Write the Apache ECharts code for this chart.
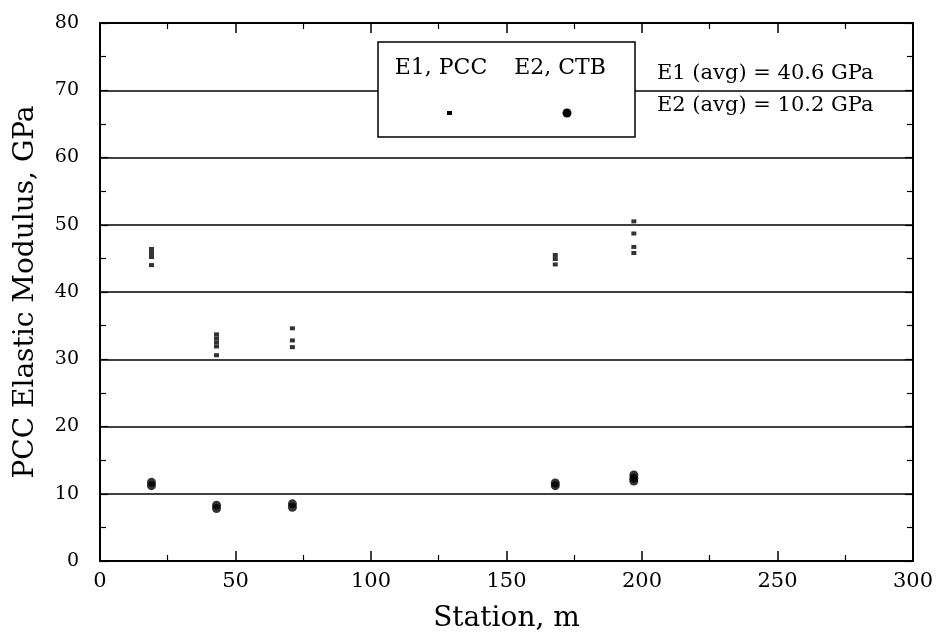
<!DOCTYPE html>
<html lang="en">
<head>
    <meta charset="UTF-8">
    <title>PCC Elastic Modulus vs Station</title>
    <script src="https://cdn.jsdelivr.net/npm/echarts@6/dist/echarts.min.js"></script>
    <style>
        body { margin: 0; background: #fff; }
        #chart { width: 936px; height: 640px; }
    </style>
</head>
<body>
<div id="chart"></div>
<script>
    // station positions (m) and moduli (GPa)
    var stations = [19, 43, 71, 168, 197];
    var e1Values = [
        [46.4, 45.8, 45.2, 44.0],
        [33.7, 33.1, 32.5, 31.9, 30.6],
        [34.6, 32.8, 31.8],
        [45.5, 44.9, 44.1],
        [50.5, 48.7, 46.7, 45.8]
    ];
    var e2Values = [
        [11.7, 11.2],
        [8.3, 7.8],
        [8.5, 8.0],
        [11.6, 11.2],
        [12.8, 12.3, 11.9]
    ];
    var legendNames = ['E1, PCC', 'E2, CTB'];
    var avgNotes = ['E1 (avg) = 40.6 GPa', 'E2 (avg) = 10.2 GPa'];

    function toPoints(values) {
        var pts = [];
        stations.forEach(function (s, i) {
            values[i].forEach(function (v) { pts.push([s, v]); });
        });
        return pts;
    }

    var serif = '"DejaVu Serif", "Liberation Serif", serif';
    var chart = echarts.init(document.getElementById('chart'));

    // onZero off so the mirrored top/right axes stay on the frame
    var frameLine = { show: true, onZero: false, lineStyle: { color: '#000', width: 2 } };
    var xTick = { show: true, inside: true, length: 10, lineStyle: { color: '#000', width: 1.5 } };
    var yTick = { show: true, inside: true, length: 8, lineStyle: { color: '#000', width: 1.2 } };
    var minor = { show: true, splitNumber: 2, length: 6, lineStyle: { color: '#000', width: 1.2 } };

    chart.setOption({
        backgroundColor: '#fff',
        animation: false,
        grid: { left: 100, right: 22, top: 23, bottom: 79 },
        xAxis: [
            {
                type: 'value', min: 0, max: 300, interval: 50, position: 'bottom',
                name: 'Station, m',
                nameLocation: 'middle',
                nameGap: 44,
                nameTextStyle: { fontFamily: serif, fontSize: 28, color: '#000' },
                axisLine: frameLine, axisTick: xTick, minorTick: minor,
                axisLabel: { fontFamily: serif, fontSize: 21, color: '#000', margin: 10 },
                splitLine: { show: false }
            },
            {
                type: 'value', min: 0, max: 300, interval: 50, position: 'top',
                axisLine: frameLine, axisTick: xTick, minorTick: minor,
                axisLabel: { show: false },
                splitLine: { show: false }
            }
        ],
        yAxis: [
            {
                type: 'value', min: 0, max: 80, interval: 10, position: 'left',
                name: 'PCC Elastic Modulus, GPa',
                nameLocation: 'middle',
                nameGap: 60,
                nameTextStyle: { fontFamily: serif, fontSize: 28, color: '#000' },
                axisLine: frameLine, axisTick: yTick, minorTick: minor,
                axisLabel: { fontFamily: serif, fontSize: 19, color: '#000', margin: 21 },
                splitLine: { show: true, lineStyle: { color: '#000', width: 1.5 } }
            },
            {
                type: 'value', min: 0, max: 80, interval: 10, position: 'right',
                axisLine: frameLine, axisTick: yTick, minorTick: minor,
                axisLabel: { show: false },
                splitLine: { show: false }
            }
        ],
        series: [
            {
                name: legendNames[0],
                type: 'scatter',
                symbol: 'rect',
                symbolSize: [5, 4],
                itemStyle: { color: '#000' },
                data: toPoints(e1Values)
            },
            {
                name: legendNames[1],
                type: 'scatter',
                symbol: 'circle',
                symbolSize: 9,
                itemStyle: { color: '#000' },
                data: toPoints(e2Values)
            }
        ],
        graphic: [
            {
                type: 'rect', z: 100,
                shape: { x: 378, y: 42, width: 257, height: 95 },
                style: { fill: '#fff', stroke: '#000', lineWidth: 1.5 }
            },
            {
                type: 'text', z: 101, x: 441, y: 68,
                style: { text: legendNames[0], font: '22px ' + serif, fill: '#000', align: 'center', verticalAlign: 'middle' }
            },
            {
                type: 'text', z: 101, x: 560, y: 68,
                style: { text: legendNames[1], font: '22px ' + serif, fill: '#000', align: 'center', verticalAlign: 'middle' }
            },
            {
                type: 'rect', z: 101,
                shape: { x: 447, y: 111, width: 5, height: 4 },
                style: { fill: '#000' }
            },
            {
                type: 'circle', z: 101,
                shape: { cx: 567, cy: 113, r: 4.5 },
                style: { fill: '#000' }
            },
            {
                type: 'text', z: 101, x: 657, y: 74,
                style: { text: avgNotes[0], font: '21px ' + serif, fill: '#000', verticalAlign: 'middle' }
            },
            {
                type: 'text', z: 101, x: 657, y: 106,
                style: { text: avgNotes[1], font: '21px ' + serif, fill: '#000', verticalAlign: 'middle' }
            }
        ]
    });
</script>
</body>
</html>
